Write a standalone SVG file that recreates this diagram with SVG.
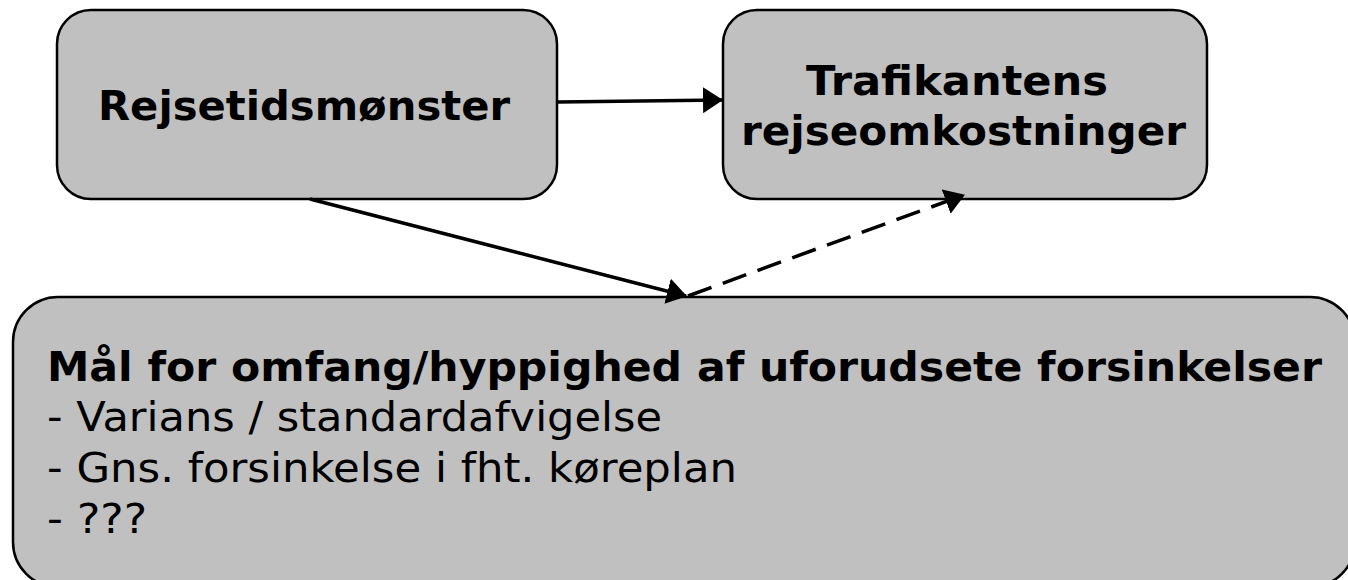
<svg xmlns="http://www.w3.org/2000/svg" width="1348" height="580" viewBox="0 0 1348 580">
<style>
.box{fill:#c0c0c0;stroke:#000;stroke-width:2.5}
.t{font-family:"DejaVu Sans",Verdana,sans-serif;fill:#000;font-size:40px}
.b{font-weight:bold}
.c{stroke:#000;stroke-width:3.5;fill:none}
</style>
<defs>
<marker id="arr" markerWidth="20" markerHeight="26" refX="19" refY="13" orient="auto" markerUnits="userSpaceOnUse" viewBox="0 0 20 26">
<path d="M0,0 L20,13 L0,26 z" fill="#000"/>
</marker>
</defs>
<rect width="1348" height="580" fill="#fff"/>
<g id="node-rejsetid">
<rect class="box" x="57" y="10" width="500" height="189" rx="34"/>
<text class="t b" x="98" y="120" textLength="412" lengthAdjust="spacingAndGlyphs">Rejsetidsmønster</text>
</g>
<g id="node-trafikant">
<rect class="box" x="723" y="10" width="484" height="189" rx="34"/>
<text class="t b" x="806" y="95" textLength="302" lengthAdjust="spacingAndGlyphs">Trafikantens</text>
<text class="t b" x="741" y="145" textLength="445" lengthAdjust="spacingAndGlyphs">rejseomkostninger</text>
</g>
<g id="node-maal">
<rect class="box" x="13" y="297" width="1342" height="290" rx="45"/>
<text class="t b" x="47" y="381" textLength="1275" lengthAdjust="spacingAndGlyphs">Mål for omfang/hyppighed af uforudsete forsinkelser</text>
<text class="t" x="47" y="431" textLength="615" lengthAdjust="spacingAndGlyphs">- Varians / standardafvigelse</text>
<text class="t" x="47" y="482" textLength="690" lengthAdjust="spacingAndGlyphs">- Gns. forsinkelse i fht. køreplan</text>
<text class="t" x="47" y="533" textLength="100" lengthAdjust="spacingAndGlyphs">- ???</text>
</g>
<g id="connectors">
<line class="c" x1="558" y1="102" x2="722" y2="100" marker-end="url(#arr)"/>
<line class="c" x1="310" y1="199" x2="686" y2="296" marker-end="url(#arr)"/>
<line class="c" x1="688" y1="296" x2="964" y2="195" stroke-dasharray="25,12" marker-end="url(#arr)"/>
</g>
</svg>
